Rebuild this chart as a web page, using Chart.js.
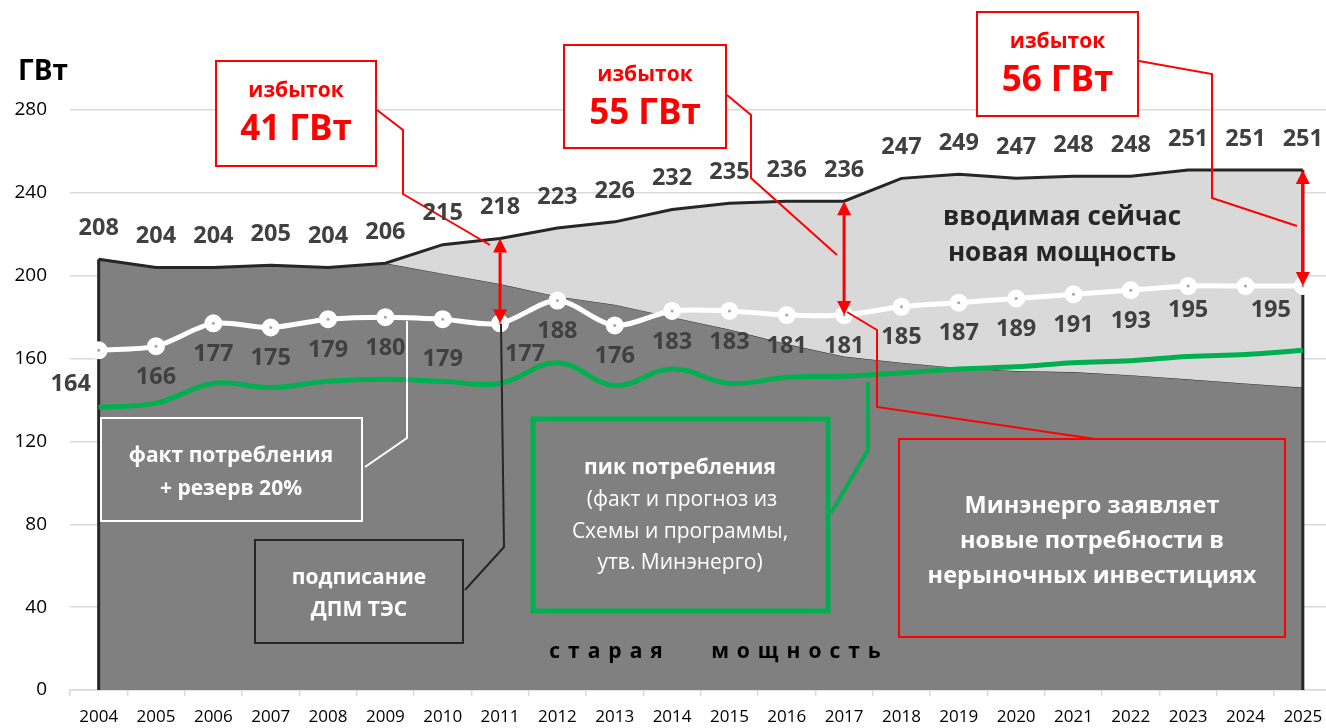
<!DOCTYPE html>
<html>
<head>
<meta charset="utf-8">
<title>Избыток мощности</title>
<style>
html, body { margin: 0; padding: 0; overflow: hidden; background: #fff; }
#wrap { width: 1343px; height: 728px; }
</style>
</head>
<body>
<div id="wrap"><canvas id="chart" width="1343" height="728"></canvas></div>
<script src="https://cdn.jsdelivr.net/npm/chart.js"></script>
<script>
const years = ['2004','2005','2006','2007','2008','2009','2010','2011','2012','2013','2014',
               '2015','2016','2017','2018','2019','2020','2021','2022','2023','2024','2025'];
const yTicks = [0, 40, 80, 120, 160, 200, 240, 280];

// установленная мощность (старая + вводимая), ГВт
const totalCap = [208,204,204,205,204,206,215,218,223,226,232,235,236,236,247,249,247,248,248,251,251,251];
// старая мощность
const oldCap = [208,204,204,205,204,206,201,196,190,186,180,174,167,161,158,155.5,154,153.5,152,150,148,146];
// факт потребления + резерв 20%
const demandReserve = [164,166,177,175,179,180,179,177,188,176,183,183,181,181,185,187,189,191,193,195,195,195];
// пик потребления
const peakDemand = [136.5,138.5,148,146,149,150,149,148,158,147,155,148,151,151.5,153,155,156,158,159,161,162,164];

const arrowYears = ['2011', '2017', '2025'];
const surplusText = ['41 ГВт', '55 ГВт', '56 ГВт'];

const FONT = '"Open Sans", "Noto Sans", sans-serif';

function txt(ctx, s, x, y, font, color, align) {
    ctx.font = font;
    ctx.fillStyle = color;
    ctx.textAlign = align || 'center';
    ctx.textBaseline = 'middle';
    ctx.fillText(s, x, y);
}
function rect(ctx, x, y, w, h, color, lw, fill) {
    if (fill) { ctx.fillStyle = fill; ctx.fillRect(x, y, w, h); }
    ctx.strokeStyle = color;
    ctx.lineWidth = lw;
    ctx.strokeRect(x, y, w, h);
}
function poly(ctx, pts, color, lw) {
    ctx.strokeStyle = color;
    ctx.lineWidth = lw;
    ctx.lineJoin = 'miter';
    ctx.beginPath();
    pts.forEach((p, i) => i ? ctx.lineTo(p[0], p[1]) : ctx.moveTo(p[0], p[1]));
    ctx.stroke();
}
function arrow(ctx, x, y1, y2) {
    const head = 14, hw = 7;
    ctx.strokeStyle = ctx.fillStyle = '#ff0000';
    ctx.lineWidth = 3;
    ctx.beginPath(); ctx.moveTo(x, y1 + head); ctx.lineTo(x, y2 - head); ctx.stroke();
    ctx.beginPath(); ctx.moveTo(x, y1); ctx.lineTo(x - hw, y1 + head); ctx.lineTo(x + hw, y1 + head); ctx.closePath(); ctx.fill();
    ctx.beginPath(); ctx.moveTo(x, y2); ctx.lineTo(x - hw, y2 - head); ctx.lineTo(x + hw, y2 - head); ctx.closePath(); ctx.fill();
}

// боковые границы области мощности
const edges = {
    id: 'edges',
    afterDatasetDraw(chart, args) {
        if (args.index !== 1) return;
        const ctx = chart.ctx, x = chart.scales.x, y = chart.scales.y;
        const last = totalCap.length - 1;
        ctx.save();
        poly(ctx, [[x.getPixelForValue(0), y.getPixelForValue(totalCap[0])], [x.getPixelForValue(0), y.getPixelForValue(0)]], '#262626', 3);
        poly(ctx, [[x.getPixelForValue(last), y.getPixelForValue(totalCap[last])], [x.getPixelForValue(last), y.getPixelForValue(0)]], '#262626', 3);
        ctx.restore();
    }
};

const notes = {
    id: 'notes',
    afterDatasetsDraw(chart) {
        const ctx = chart.ctx, x = chart.scales.x, y = chart.scales.y;
        ctx.save();

        // точки на белой линии
        chart.getDatasetMeta(3).data.forEach(p => {
            ctx.fillStyle = '#a6a6a6';
            ctx.beginPath(); ctx.arc(p.x, p.y, 1.5, 0, Math.PI * 2); ctx.fill();
        });

        // тексты внутри областей
        txt(ctx, 'вводимая сейчас', 1062, 218, `bold 26px ${FONT}`, '#262626');
        txt(ctx, 'новая мощность', 1062, 254, `bold 26px ${FONT}`, '#262626');
        ctx.letterSpacing = '8px';
        txt(ctx, 'старая   мощность', 719, 652, `bold 21px ${FONT}`, '#000');
        ctx.letterSpacing = '0px';

        // подпись оси
        txt(ctx, 'ГВт', 18, 72, `bold 28px ${FONT}`, '#000', 'left');

        // белая рамка
        rect(ctx, 101, 418, 261, 103, '#fff', 2);
        txt(ctx, 'факт потребления', 231, 456, `bold 21px ${FONT}`, '#fff');
        txt(ctx, '+ резерв 20%', 231, 489, `bold 21px ${FONT}`, '#fff');
        poly(ctx, [[365, 467], [407, 438], [407, 321]], '#fff', 2);

        // подписание ДПМ
        rect(ctx, 255, 540, 208, 103, '#262626', 2);
        txt(ctx, 'подписание', 359, 578, `bold 21px ${FONT}`, '#fff');
        txt(ctx, 'ДПМ ТЭС', 359, 610, `bold 21px ${FONT}`, '#fff');
        poly(ctx, [[465, 590], [504, 547], [501, 324]], '#262626', 2);

        // пик потребления
        rect(ctx, 533, 419, 295, 192, '#00b050', 5);
        txt(ctx, 'пик потребления', 680, 468, `bold 21px ${FONT}`, '#fff');
        txt(ctx, '(факт и прогноз из', 682, 500, `21px ${FONT}`, '#fff');
        txt(ctx, 'Схемы и программы,', 680, 532, `21px ${FONT}`, '#fff');
        txt(ctx, 'утв. Минэнерго)', 680, 563, `21px ${FONT}`, '#fff');
        poly(ctx, [[831, 513], [868, 450], [868, 382]], '#00b050', 4);

        // Минэнерго
        rect(ctx, 899, 439, 386, 198, '#ff0000', 2);
        txt(ctx, 'Минэнерго заявляет', 1092, 506, `bold 23.5px ${FONT}`, '#fff');
        txt(ctx, 'новые потребности в', 1092, 541, `bold 23.5px ${FONT}`, '#fff');
        txt(ctx, 'нерыночных инвестициях', 1092, 576, `bold 23.5px ${FONT}`, '#fff');
        poly(ctx, [[847, 312], [877, 330], [877, 407], [1095, 439]], '#ff0000', 2);

        // стрелки избытка
        arrowYears.forEach(yr => {
            const i = years.indexOf(yr);
            arrow(ctx, x.getPixelForValue(i), y.getPixelForValue(totalCap[i]), y.getPixelForValue(demandReserve[i]));
        });

        // рамки избытка
        const boxes = [[216, 61, 160, 105], [564, 45, 162, 103], [977, 12, 161, 104]];
        boxes.forEach((b, k) => {
            rect(ctx, b[0], b[1], b[2], b[3], '#ff0000', 2, '#fff');
            txt(ctx, 'избыток', b[0] + b[2] / 2, b[1] + 30, `bold 21px ${FONT}`, '#ff0000');
            txt(ctx, surplusText[k], b[0] + b[2] / 2, b[1] + 69, `bold 35px ${FONT}`, '#ff0000');
        });
        poly(ctx, [[377, 110], [403, 130], [403, 194], [490, 245]], '#ff0000', 2);
        poly(ctx, [[727, 95], [751, 115], [751, 178], [837, 255]], '#ff0000', 2);
        poly(ctx, [[1139, 61], [1212, 74], [1212, 198], [1297, 226]], '#ff0000', 2);

        // подписи значений
        totalCap.forEach((v, i) => {
            txt(ctx, String(v), x.getPixelForValue(i), y.getPixelForValue(v) - 31, `bold 23.5px ${FONT}`, '#404040');
        });
        demandReserve.forEach((v, i) => {
            if (i === 20) return;
            let dx = 0, dy = 31;
            if (i === 0) { dx = -28; dy = 34; }
            if (i === 6) dy = 40;
            if (i === 7) dx = 25;
            if (i >= 19) dy = 24;
            if (i === 21) dx = -32;
            txt(ctx, String(v), x.getPixelForValue(i) + dx, y.getPixelForValue(v) + dy, `bold 23.5px ${FONT}`, '#404040');
        });

        ctx.restore();
    }
};

new Chart(document.getElementById('chart'), {
    type: 'line',
    data: {
        labels: years,
        datasets: [
            { label: 'старая мощность', data: oldCap, borderColor: '#262626', borderWidth: 1,
              backgroundColor: '#808080', fill: 'origin', pointRadius: 0, tension: 0, order: 3 },
            { label: 'вводимая сейчас новая мощность', data: totalCap, borderColor: '#262626', borderWidth: 3,
              backgroundColor: '#d9d9d9', fill: '-1', pointRadius: 0, tension: 0, order: 2 },
            { label: 'пик потребления', data: peakDemand, borderColor: '#00b050', borderWidth: 5,
              pointRadius: 0, fill: false, tension: 0.4, order: 1 },
            { label: 'факт потребления + резерв 20%', data: demandReserve, borderColor: '#ffffff', borderWidth: 5,
              pointRadius: 6.5, pointBackgroundColor: '#ffffff', pointBorderColor: '#ffffff',
              fill: false, tension: 0.3, order: 0 }
        ]
    },
    options: {
        responsive: false,
        animation: false,
        layout: { padding: { top: 110, left: 0, right: 0, bottom: 0 } },
        plugins: { legend: { display: false }, tooltip: { enabled: false } },
        scales: {
            x: {
                offset: true,
                grid: { offset: true, drawOnChartArea: false, drawTicks: true, tickLength: 6, color: '#d9d9d9', lineWidth: 1.5 },
                border: { color: '#d9d9d9', width: 1.5 },
                ticks: { color: '#000', font: { family: FONT, size: 17 }, padding: 11, maxRotation: 0, autoSkip: false },
                afterFit(s) { s.height = 38; }
            },
            y: {
                min: 0, max: 280,
                afterBuildTicks(s) { s.ticks = yTicks.map(v => ({ value: v })); },
                grid: { color: '#d9d9d9', lineWidth: 1.5, drawTicks: false },
                border: { display: false },
                ticks: { color: '#000', font: { family: FONT, size: 19 }, padding: 23 },
                afterFit(s) { s.width = 70; }
            }
        }
    },
    plugins: [edges, notes]
});
</script>
</body>
</html>
